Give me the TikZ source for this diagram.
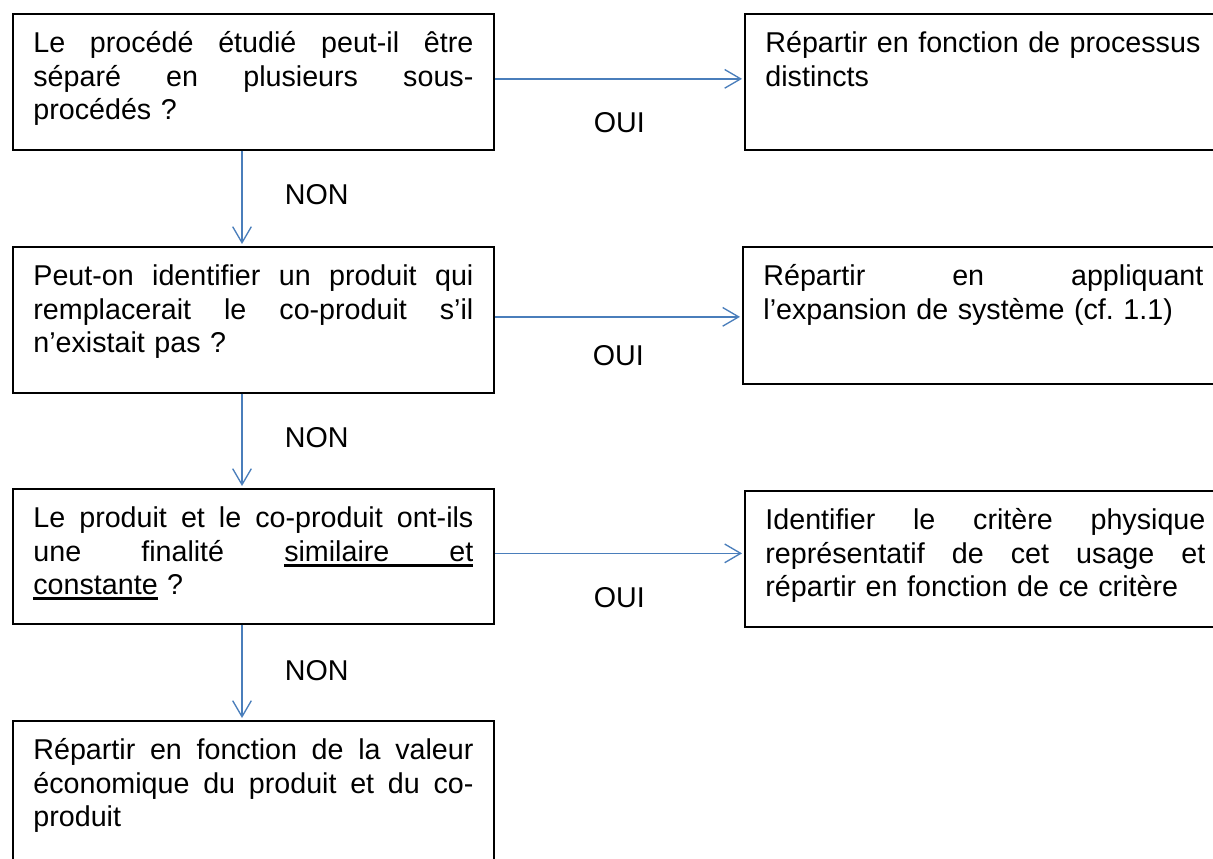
\documentclass[tikz,border=0pt]{standalone}
\usepackage{fontspec}
\setmainfont{Liberation Sans}
\usepackage{tikz}
\usetikzlibrary{arrows.meta}
\definecolor{flowblue}{HTML}{4A7EBB}
\newcommand\jline[1]{\makebox[\linewidth][s]{\spaceskip=0pt\xspaceskip=0pt #1}}
% underlined word and underlined (stretchable) space
\newcommand\ulword[1]{\leavevmode\setbox0\hbox{#1}\rlap{\rule[-4pt]{\wd0}{1.9pt}}\box0\relax}
\newcommand\ulgap{\leaders\hrule height -2.1pt depth 4pt\hskip\fontdimen2\font
  plus\fontdimen3\font minus\fontdimen4\font}
\tikzset{
  box/.style={draw=black,line width=1.3pt,anchor=north west,align=left,
    text width=330pt,inner xsep=15.4pt,inner ysep=0pt,
    text height=29.25pt,text depth=#1,
    font=\fontsize{21.5pt}{25pt}\selectfont\frenchspacing},
  box/.default=72.75pt,
  flow/.style={draw=flowblue,line width=1pt,shorten >=1.5pt,
    -{Straight Barb[length=12pt,width=14pt,line width=1pt]}},
  answer/.style={font=\fontsize{21.5pt}{25pt}\selectfont,inner sep=0pt}
}

\begin{document}
\begin{tikzpicture}[x=0.75pt,y=-0.75pt]
  \useasboundingbox (0,0) rectangle (1213,859);
  % questions
  \node[box] (q1) at (12,13) {\jline{Le procédé étudié peut-il être}\\
    \jline{séparé en plusieurs sous-}\\ procédés ?};
  \node[box=80.25pt] (q2) at (12,246) {\jline{Peut-on identifier un produit qui}\\
    \jline{remplacerait le co-produit s’il}\\ n’existait pas ?};
  \node[box=72pt] (q3) at (12,488) {\jline{Le produit et le co-produit ont-ils}\\
    \jline{une finalité \ulword{similaire}\ulgap\ulword{et}}\\ \ulword{constante} ?};
  \node[box=85pt] (q4) at (12,720) {\jline{Répartir en fonction de la valeur}\\
    \jline{économique du produit et du co-}\\ produit};
  % actions
  \node[box] (r1) at (744,13) {Répartir en fonction de processus\\ distincts};
  \node[box=73.5pt] (r2) at (742,246) {\jline{Répartir en appliquant}\\
    l’expansion de système (cf. 1.1)};
  \node[box] (r3) at (744,490) {\jline{Identifier le critère physique}\\
    \jline{représentatif de cet usage et}\\ répartir en fonction de ce critère};
  % NON
  \draw[flow] ([xshift=172.5pt]q1.south west) -- ([xshift=172.5pt]q2.north west)
    node[answer,midway,xshift=56pt,yshift=2.5pt] (non1) {NON};
  \draw[flow] ([xshift=172.5pt]q2.south west) -- ([xshift=172.5pt]q3.north west)
    node[answer,midway,xshift=56pt,yshift=2.5pt] (non2) {NON};
  \draw[flow] ([xshift=172.5pt]q3.south west) -- ([xshift=172.5pt]q4.north west)
    node[answer,midway,xshift=56pt,yshift=1.5pt] (non3) {NON};
  % OUI
  \draw[flow] ([yshift=2.25pt]q1.east) -- ([yshift=2.25pt]q1.east -| r1.west)
    node[answer,midway,yshift=-33pt] (oui1) {OUI};
  \draw[flow] ([yshift=2.25pt]q2.east) -- ([yshift=2.25pt]q2.east -| r2.west)
    node[answer,midway,yshift=-29pt] (oui2) {OUI};
  \draw[flow] ([yshift=2.25pt]q3.east) -- ([yshift=2.25pt]q3.east -| r3.west)
    node[answer,midway,yshift=-33pt] (oui3) {OUI};
\end{tikzpicture}
\end{document}
